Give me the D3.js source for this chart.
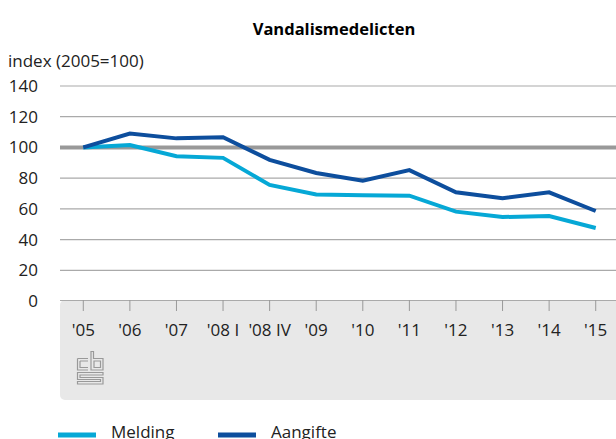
<!DOCTYPE html>
<html>
<head>
<meta charset="utf-8">
<script src="https://cdn.jsdelivr.net/npm/d3@7"></script>
<style>
  body { margin: 0; background: #fff; }
  text { font-family: "Open Sans", "Noto Sans", sans-serif; }
</style>
</head>
<body>
<svg id="chart" width="616" height="439"></svg>
<script>
const periods = ["'05", "'06", "'07", "'08 I", "'08 IV", "'09", "'10", "'11", "'12", "'13", "'14", "'15"];
const melding = [100, 101.5, 94.3, 93.2, 75.6, 69.3, 68.8, 68.6, 58.2, 54.7, 55.3, 47.5];
const aangifte = [100, 109, 105.9, 106.7, 91.9, 83.4, 78.4, 85.2, 70.8, 66.9, 70.8, 58.6];
const yTicks = [0, 20, 40, 60, 80, 100, 120, 140];
const seriesNames = ["Melding", "Aangifte"];
const colors = ['#06a8d6', '#0d4e9d'];

const svg = d3.select('#chart');
const plotLeft = 60, plotRight = 619, plotTop = 86, plotBottom = 301;

let x = d3.scaleBand()
          .domain(periods)
          .range([plotLeft, plotRight]);
let y = d3.scaleLinear()
          .domain([0, 140])
          .range([plotBottom, plotTop]);

// gray panel below the axis
svg.append('rect')
   .attr('x', plotLeft)
   .attr('y', plotBottom - 1)
   .attr('width', 620 - plotLeft)
   .attr('height', 100)
   .attr('rx', 5)
   .attr('fill', '#e8e8e8');

// title
svg.append('text')
   .attr('x', 334)
   .attr('y', 35)
   .attr('text-anchor', 'middle')
   .attr('font-size', '16.5px')
   .attr('font-weight', 'bold')
   .attr('fill', '#000')
   .text('Vandalismedelicten');

svg.append('text')
   .attr('x', 8)
   .attr('y', 67)
   .attr('font-size', '17px')
   .attr('fill', '#222')
   .text('index (2005=100)');

// grid
svg.selectAll('.grid')
   .data(yTicks.filter(d => d > 0 && d !== 100))
   .enter()
   .append('line')
   .attr('class', 'grid')
   .attr('x1', plotLeft)
   .attr('x2', 616)
   .attr('y1', d => y(d))
   .attr('y2', d => y(d))
   .attr('stroke', '#aaa')
   .attr('stroke-width', 1.2);

svg.selectAll('.ylab')
   .data(yTicks)
   .enter()
   .append('text')
   .attr('class', 'ylab')
   .attr('x', 38)
   .attr('y', d => y(d) + 6)
   .attr('text-anchor', 'end')
   .attr('font-size', '17px')
   .attr('fill', '#222')
   .text(d => d);

// reference line at 100
svg.append('line')
   .attr('x1', plotLeft)
   .attr('x2', 616)
   .attr('y1', y(100))
   .attr('y2', y(100))
   .attr('stroke', '#999')
   .attr('stroke-width', 4);

// x axis
svg.append('line')
   .attr('x1', plotLeft)
   .attr('x2', 616)
   .attr('y1', plotBottom - 0.5)
   .attr('y2', plotBottom - 0.5)
   .attr('stroke', '#aaa')
   .attr('stroke-width', 1);

svg.selectAll('.tick')
   .data(periods)
   .enter()
   .append('line')
   .attr('class', 'tick')
   .attr('x1', d => x(d) + x.bandwidth()/2)
   .attr('x2', d => x(d) + x.bandwidth()/2)
   .attr('y1', plotBottom - 1)
   .attr('y2', plotBottom + 10)
   .attr('stroke', '#999')
   .attr('stroke-width', 1);

svg.selectAll('.xlab')
   .data(periods)
   .enter()
   .append('text')
   .attr('class', 'xlab')
   .attr('x', d => x(d) + x.bandwidth()/2)
   .attr('y', plotBottom + 35)
   .attr('text-anchor', 'middle')
   .attr('font-size', '17px')
   .attr('fill', '#222')
   .text(d => d);

// cbs logo
let logo = svg.append('g')
              .attr('transform', 'translate(77,351)')
              .attr('fill', 'none')
              .attr('stroke', '#999')
              .attr('stroke-width', 1.2);
logo.append('path').attr('d', 'M0.5,7.5 H11 M0.5,7.5 V19 H11 M3,10 H11 M3,10 V16.5 H11');
logo.append('path').attr('d', 'M14,0.5 V19 H26 V7.5 H16.5 V0.5 Z M17,10 H23.5 V16.5 H17 Z');
logo.append('path').attr('d', 'M0.5,21.5 H26 V24 H3 V26.5 H26 V33 H0.5 V30.5 H23.5 V28.5 H0.5 Z');

// lines
let line = d3.line()
             .x((d, i) => x(periods[i]) + x.bandwidth()/2)
             .y(d => y(d));
[melding, aangifte].forEach(function(data, k){
  svg.append('path')
     .attr('d', line(data))
     .attr('fill', 'none')
     .attr('stroke', colors[k])
     .attr('stroke-width', 4)
     .attr('stroke-linejoin', 'miter');
});

// legend
const legendX = [58, 218];
seriesNames.forEach(function(name, k){
  svg.append('line')
     .attr('x1', legendX[k])
     .attr('x2', legendX[k] + 38)
     .attr('y1', 435)
     .attr('y2', 435)
     .attr('stroke', colors[k])
     .attr('stroke-width', 5);
  svg.append('text')
     .attr('x', legendX[k] + 53)
     .attr('y', 438)
     .attr('font-size', '17px')
     .attr('fill', '#222')
     .text(name);
});
</script>
</body>
</html>
